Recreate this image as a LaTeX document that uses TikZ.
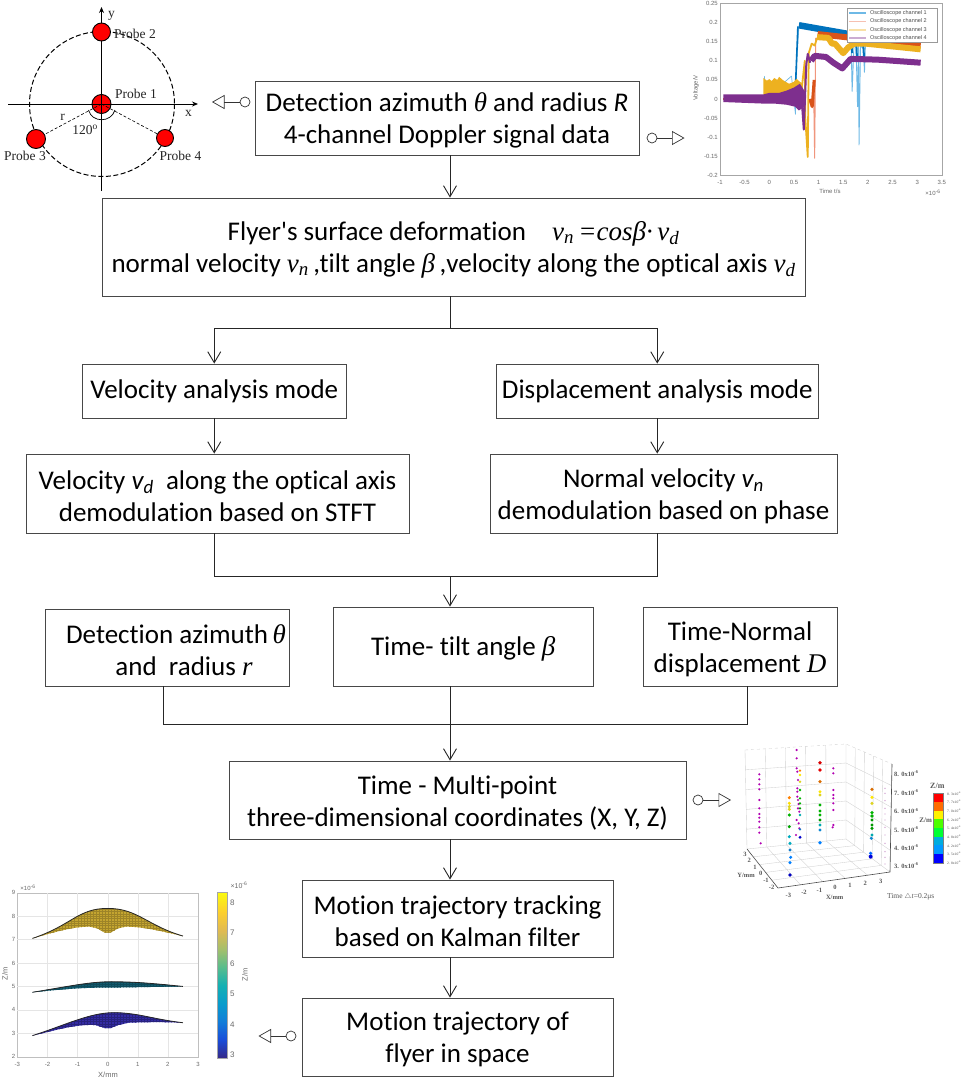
\documentclass[tikz,border=0pt]{standalone}
\usepackage{fontspec}
\setmainfont{Carlito}[Ligatures={NoCommon}]
\newfontfamily\tms{Liberation Serif}
\newfontfamily\hlv{Liberation Sans}
\usetikzlibrary{arrows.meta,decorations.pathmorphing,calc}
\definecolor{edge}{RGB}{72,72,72}
\definecolor{cblue}{RGB}{0,114,189}
\definecolor{lblue}{RGB}{110,185,230}
\definecolor{cora}{RGB}{217,83,25}
\definecolor{lora}{RGB}{240,150,125}
\definecolor{cyel}{RGB}{237,177,32}
\definecolor{cpur}{RGB}{126,47,142}
\definecolor{tickgray}{RGB}{105,105,105}
\definecolor{syel}{RGB}{196,165,48}
\definecolor{stea}{RGB}{18,92,112}
\definecolor{sblu}{RGB}{52,44,165}
\pgfdeclareverticalshading{parula}{100bp}{
 rgb(0bp)=(0.21,0.16,0.53);
 rgb(25bp)=(0.21,0.16,0.53);
 rgb(30.5bp)=(0.10,0.30,0.85);
 rgb(36bp)=(0.07,0.49,0.85);
 rgb(41.5bp)=(0.03,0.61,0.80);
 rgb(47bp)=(0.08,0.69,0.70);
 rgb(52.5bp)=(0.35,0.74,0.55);
 rgb(58bp)=(0.65,0.75,0.42);
 rgb(63.5bp)=(0.88,0.73,0.32);
 rgb(69bp)=(0.99,0.81,0.18);
 rgb(75bp)=(0.98,0.98,0.06);
 rgb(100bp)=(0.98,0.98,0.06)}
\newcommand{\tv}[1]{{\tms\itshape #1}}
\newcommand{\st}{\rule{0pt}{24pt}}
\newcommand{\bxf}{\fontsize{27}{32}\selectfont}
\tikzset{
 bx/.style={draw=edge,line width=.9pt,fill=white,inner sep=0pt,align=center,font=\bxf,text=black},
 conn/.style={line width=1pt,draw=black!85},
 arr/.style={conn,-{Straight Barb[length=11pt,width=13pt,line width=.9pt]}},
 ringnode/.style={circle,draw=black!80,line width=.7pt,fill=white,minimum size=10pt,inner sep=0pt},
 linkarr/.style={line width=.7pt,draw=black!80,-{Triangle[open,length=12.5pt,width=14pt,line width=.7pt]}},
 probe/.style={circle,draw=black,line width=.9pt,fill=red,inner sep=0pt},
 plab/.style={font=\tms\fontsize{13.5}{14}\selectfont,text=black!85,inner sep=0pt},
 tickl/.style={font=\hlv\fontsize{6}{6.5}\selectfont,text=tickgray,inner sep=0pt},
 serl/.style={font=\tms\bfseries\fontsize{6.5}{7}\selectfont,text=black!65,inner sep=0pt},
 parl/.style={font=\hlv\fontsize{7.5}{8}\selectfont,text=tickgray,inner sep=0pt},
}
\begin{document}
\begin{tikzpicture}[x=1pt,y=-1pt]
\useasboundingbox (0,0) rectangle (969,1079);
\fill[white] (0,0) rectangle (969,1079);
\pgfmathsetseed{7}

% ---------- flow boxes
\node[bx,minimum width=384pt,minimum height=74pt] (det) at (447,118) {\st Detection azimuth \tv{θ} and radius \textit{R}\\4-channel Doppler signal data};
\node[bx,minimum width=703pt,minimum height=98pt] (fly) at (453.5,247) {\st Flyer\textquotesingle s surface deformation\hspace{26pt}\tv{v\textsubscript{n}\,=cosβ·\,v\textsubscript{d}}\\normal velocity \tv{v\textsubscript{n}}\,,tilt angle \tv{β}\,,velocity along the optical axis \tv{v\textsubscript{d}}};
\node[bx,minimum width=264.5pt,minimum height=54pt] (vmode) at (214.25,391) {Velocity analysis mode};
\node[bx,minimum width=321.5pt,minimum height=54pt] (dmode) at (657.25,391) {Displacement analysis mode};
\node[bx,minimum width=383pt,minimum height=79pt] (vdem) at (217.5,493.5) {\st Velocity \textit{v\textsubscript{d}}\ \ along the optical axis\\demodulation based on STFT};
\node[bx,minimum width=347pt,minimum height=79pt] (ndem) at (663.5,493.5) {\st Normal velocity \textit{v\textsubscript{n}}\\demodulation based on phase};
\node[bx,minimum width=244pt,minimum height=77pt] (azi) at (167,647.5) {\st\hspace*{18pt}Detection azimuth\,\tv{θ}\\\hspace*{34pt}and\ \ radius \tv{r}};
\node[bx,minimum width=259.5pt,minimum height=79pt] (tilt) at (463.25,646.5) {\st Time- tilt angle \tv{β}};
\node[bx,minimum width=194pt,minimum height=79pt] (tnor) at (740,646.5) {\st Time-Normal\\displacement \tv{D}};
\node[bx,minimum width=457pt,minimum height=78pt] (xyz) at (457.5,800) {\st Time - Multi-point\\three-dimensional coordinates (X, Y, Z)};
\node[bx,minimum width=311pt,minimum height=77pt] (kal) at (457.5,918.5) {\st Motion trajectory tracking\\based on Kalman filter};
\node[bx,minimum width=311pt,minimum height=78pt] (traj) at (457.5,1037) {\st Motion trajectory of\\flyer in space};

% ---------- connectors
\coordinate (cx) at (450,0);
\coordinate (split) at (450,328);
\coordinate (mergeA) at (450,576);
\coordinate (mergeB) at (450,724);
\draw[arr] (det.south -| cx) -- (fly.north -| cx);
\draw[conn] (fly.south -| cx) -- (split);
\draw[arr] (split) -| (vmode.north);
\draw[arr] (split) -| (dmode.north);
\draw[arr] (vmode.south) -- (vmode.south |- vdem.north);
\draw[arr] (dmode.south) -- (dmode.south |- ndem.north);
\draw[conn] (vmode.south |- vdem.south) |- (mergeA);
\draw[conn] (dmode.south |- ndem.south) |- (mergeA);
\draw[arr] (mergeA) -- (tilt.north -| cx);
\coordinate (az) at (163,0);
\coordinate (tn) at (747,0);
\draw[conn] (azi.south -| az) |- (mergeB);
\draw[conn] (tnor.south -| tn) |- (mergeB);
\draw[conn] (tilt.south -| cx) -- (mergeB);
\draw[arr] (mergeB) -- (xyz.north -| cx);
\draw[arr] (xyz.south -| cx) -- (kal.north -| cx);
\draw[arr] (kal.south -| cx) -- (traj.north -| cx);

% ---------- link arrows
\node[ringnode] (r1) at (245,102) {};
\coordinate (t1) at (212,102);
\draw[linkarr] (r1) -- (t1);
\node[ringnode] (r2) at (652,138) {};
\coordinate (t2) at (684.5,138);
\draw[linkarr] (r2) -- (t2);
\node[ringnode] (r3) at (698,800) {};
\coordinate (t3) at (731,800);
\draw[linkarr] (r3) -- (t3);
\node[ringnode] (r4) at (291,1036) {};
\coordinate (t4) at (258.5,1036);
\draw[linkarr] (r4) -- (t4);

% ---------- probe layout
\draw[line width=1pt,dash pattern=on 5pt off 2.5pt] (102,104) circle (72.5);
\draw[line width=1pt,-{Stealth[length=6pt,width=5pt]}] (101.5,191) -- (101.5,7);
\draw[line width=1pt,-{Stealth[length=6pt,width=5pt]}] (8,104) -- (198,104);
\node[probe,minimum size=18pt] (p2) at (101.5,32) {};
\node[probe,minimum size=19pt] (p1) at (101.5,104) {};
\node[probe,minimum size=19pt] (p3) at (36,139) {};
\node[probe,minimum size=17pt] (p4) at (165,138) {};
\draw[line width=.6pt] (p1.west) -- (p1.east) (p1.north) -- (p1.south);
\draw[line width=.6pt,densely dashed] (p1.center) -- (p3);
\draw[line width=.6pt,densely dashed] (p1.center) -- (p4);
\draw[line width=.7pt] (88.5,110) .. controls (92,123) and (111,123) .. (115,110);
\node[plab] at (111.5,16) {y};
\node[plab,fill=none] at (135,34) {Probe 2};
\node[plab] at (136,93.5) {Probe 1};
\node[plab] at (188.5,113) {x};
\node[plab] at (62.5,117.5) {r};
\node[plab] at (85,129.5) {120\textsuperscript{o}};
\node[plab] at (25,156) {Probe 3};
\node[plab] at (180.5,156) {Probe 4};

% ---------- oscilloscope chart
\draw[black!35,line width=.5pt] (720,3) rectangle (942,175);
\foreach \t in {-1,-0.5,0,0.5,1,1.5,2,2.5,3,3.5}
  \node[tickl] at ({769.3+49.3*\t},182) {\t};
\foreach \v in {0.25,0.2,0.15,0.1,0.05,0,-0.05,-0.1,-0.15,-0.2}
  \node[tickl,anchor=east] at (718,{99-382*\v}) {\v};
\node[tickl,rotate=90] at (696,88) {Voltage/V};
\node[tickl] at (830,191) {Time t/s};
\node[tickl] at (933,193) {×10\textsuperscript{-6}};
\begin{scope}[shift={(769.3,99)},x=49.3pt,y=382pt,line join=round]
 \draw[lblue,line width=.7pt] (-0.1,0.06)--(-0.08,0)--(0.45,0.06)--(0.53,-0.04)--(0.56,0.1)--(0.6,0.19);
 \draw[cblue,line width=1.6pt] (0.53,0.03)--(0.58,0.19);
 \draw[cblue,line width=6.5pt] (0.6,0.193)--(1.7,0.168);
 \draw[lblue,line width=.9pt] (1.66,0.15)--(1.68,0.02)--(1.72,0.15)--(1.76,0.14)--(1.79,-0.02)--(1.81,0.14)--(1.82,-0.12)--(1.85,0.14)--(1.91,0.13)--(1.93,0.07)--(1.95,0.14);
 \draw[cblue,line width=2pt] (1.66,0.17)--(1.68,0.12) (1.76,0.16)--(1.78,0.1) (1.9,0.16)--(1.92,0.11);
 \draw[lora,line width=1pt] (0.9,0.02)--(0.92,-0.155)--(0.94,0.16);
 \draw[cora,line width=3pt] (0.82,0.0)--(0.87,-0.02)--(0.91,0.05);
 \draw[cora,line width=6pt] (0.98,0.17)--(3.07,0.14);
 \fill[cyel] (-0.12,0.055) -- (-0.05,0.048) -- (0,0.052) -- (0.05,0.047) -- (0.1,0.055) -- (0.16,0.05) -- (0.2,0.058) -- (0.27,0.05) -- (0.33,0.045) -- (0.4,0.04) -- (0.5,0.045) -- (0.55,0.053) -- (0.62,0.045) -- (0.68,0.04) -- (0.68,0.0) -- (0.5,0.01) -- (0.2,0.012) -- (0,0.012) -- (-0.12,0.01) -- cycle;
 \draw[cyel,line width=1.8pt] (0.66,0.03)--(0.72,0.1)--(0.73,-0.05)--(0.78,-0.152)--(0.8,0.12)--(0.86,0.145)--(0.92,0.14)--(0.97,0.16);
 \draw[cyel,line width=6pt] (0.97,0.162)--(1.2,0.16)--(1.27,0.145)--(1.33,0.145)--(1.5,0.12)--(1.6,0.135)--(1.72,0.145)--(1.95,0.145)--(3.07,0.13);
 \draw[cora,line width=1.5pt] (-0.93,0)--(-0.1,0);
 \fill[cpur] (-0.93,0.012) -- (-0.12,0.012) -- (0,0.016) -- (0.2,0.016) -- (0.35,0.022) -- (0.5,0.03) -- (0.62,0.04) -- (0.72,0.02) -- (0.72,-0.02) -- (0.6,-0.03) -- (0.52,-0.02) -- (0.35,-0.015) -- (0.1,-0.012) -- (-0.12,-0.012) -- (-0.93,-0.008) -- cycle;
 \draw[cpur,line width=2pt] (0.65,0.01)--(0.7,-0.08)--(0.75,0.09)--(0.78,0.118)--(0.83,0.095);
 \draw[cpur,line width=6pt] (0.85,0.1)--(0.92,0.113)--(1.15,0.11)--(1.3,0.095)--(1.48,0.08)--(1.65,0.105)--(2.2,0.103)--(3.07,0.095);
\end{scope}
\node[draw=black!40,line width=.4pt,fill=white,minimum width=90pt,minimum height=34pt,inner sep=0pt] (leg) at (892,25) {};
\foreach \y/\c/\n in {13/lblue/1,21.5/lora!60/2,30/cyel!40/3,38/cpur!40/4}{
  \draw[\c,line width=1.2pt] (849,\y) -- (866,\y);
  \node[font=\hlv\fontsize{5.5}{6}\selectfont,text=black!70,anchor=west,inner sep=0pt] at (870,\y) {Oscilloscope channel \n};
}

% ---------- 3D scatter
\begin{scope}[line width=.35pt,draw=black!18]
 \draw[dashed] (745,750) -- (846,744) -- (892,764);
 \draw (745,750) -- (747,849) (846,744) -- (846,839) (892,764) -- (890,872);
 \draw (747,849) -- (846,839) -- (890,872);
 \foreach \f in {.2,.4,.6,.8}{
   \draw ($(745,750)!\f!(747,849)$) -- ($(846,744)!\f!(846,839)$) -- ($(892,764)!\f!(890,872)$);
   \draw ($(745,750)!\f!(846,744)$) -- ($(747,849)!\f!(846,839)$);
   \draw ($(846,744)!\f!(892,764)$) -- ($(846,839)!\f!(890,872)$);
   \draw ($(747,849)!\f!(778,888)$) -- ($(846,839)!\f!(890,872)$);
   \draw ($(778,888)!\f!(890,872)$) -- ($(747,849)!\f!(846,839)$);
 }
\end{scope}
\draw[black!70,line width=.6pt] (747,849) -- (778,888) -- (890,872);
\draw[black!70,line width=.6pt] (892,764) -- (890,872);
\foreach \p/\q/\l in {75/343/3,88/362/2,105/382/1,122/400/0,138/422/-1,155/443/-2}
  \node[serl] at ({720+\p/3},{740+\q/3}) {\l};
\foreach \p/\q/\l in {205/465/-3,252/456/-2,298/450/-1,345/443/0,390/437/1,436/431/2,482/425/3}
  \node[serl] at ({720+\p/3},{740+\q/3}) {\l};
\foreach \q/\l in {100/8,158/7,213/6,268/5,322/4,376/3}
  \node[serl,anchor=west] at ({720+522/3},{740+\q/3}) {\l. 0x10\textsuperscript{-6}};
\node[serl] at ({720+78/3},{740+405/3}) {Y/mm};
\node[serl] at ({720+344/3},{740+471/3}) {X/mm};
\node[serl,font=\tms\fontsize{7.5}{8}\selectfont] at ({720+572/3},{740+470/3}) {Time $\triangle$\textit{t}=0.2μs};
\node[serl,font=\tms\bfseries\fontsize{8}{9}\selectfont] at ({720+652/3},{740+139/3}) {Z/m};
\node[serl,font=\tms\bfseries\fontsize{7}{8}\selectfont] at ({720+617/3},{740+240/3}) {Z/m};
\foreach \i/\c [count=\k from 0] in {0/red,1/orange!85!red,2/yellow,3/green!70!yellow,4/green!80!cyan,5/cyan!90!green,6/blue!40!cyan,7/blue}
  \fill[\c] ({720+638/3},{740+(160+26*\k)/3}) rectangle ({720+668/3},{740+(186+26*\k)/3});
\draw[black!50,line width=.3pt] ({720+638/3},{740+160/3}) rectangle ({720+668/3},{740+368/3});
\foreach \k/\l in {0/8. 3,1/7. 7,2/7. 0,3/6. 2,4/5. 4,5/4. 8,6/4. 2,7/3. 5,8/2. 8}
  \node[anchor=west,inner sep=0pt,font=\tms\fontsize{3.6}{4}\selectfont,text=black!70] at ({720+681/3},{740+(160+26*\k)/3}) {\l x10\textsuperscript{-6}};
\foreach \x/\y in {118/103,118/118,118/133,118/148,118/180,118/205,118/222,118/233,118/245,118/262,118/278,122/310,230/30,230/55,230/85,232/95,234/120,232/145,232/155,232/170,234/180,236/192,234/205,238/215,230/240,236/250,238/265,228/285,340/85,340/100,340/150,340/165,340/175,340/190,340/210,340/255,338/262}
  \fill[violet!60!magenta] ({720+\x/3},{740+\y/3}) circle (1.2);
\foreach \y in {145,160,182,205,222,240,262,285,310,335,352,372}
  \fill[violet!40] ({720+495/3},{740+\y/3}) circle (.7);
\foreach \x/\y/\c/\s in {
 208/173/orange/1.7,208/190/yellow!80!orange/1.7,208/200/yellow!85!black/1.7,208/208/yellow!85!black/1.7,208/225/green!70!black/1.7,208/260/green!65!black/1.7,208/290/cyan!70!green/1.7,210/310/cyan!70!green/1.7,210/330/cyan!60!blue/1.7,212/352/blue!50!cyan/1.7,210/368/blue!50!cyan/1.7,210/405/blue!75!black/1.9,
 240/92/orange/1.3,240/105/yellow!90!orange/1.3,240/125/yellow!85!black/1.4,240/150/green!70!black/1.4,240/175/green!70!black/1.3,240/190/green!70!black/1.3,240/205/green!60!black/1.3,240/225/cyan!60!green/1.3,240/268/cyan!60!blue/1.3,240/292/blue!80!black/1.6,
 300/68/red!85!black/1.9,300/90/red!90!black/1.8,300/125/orange!85!black/1.8,300/155/yellow!90!orange/1.6,300/165/yellow!85!black/1.6,300/195/green!70!black/1.7,300/213/green!70!black/1.7,300/225/green!70!black/1.7,300/240/green!60!black/1.7,300/255/cyan!60!green/1.7,300/270/cyan!70!blue/1.7,300/308/blue!50!cyan/1.9,
 456/148/orange!85!black/1.8,456/172/yellow!90!orange/1.7,456/190/yellow!85!black/1.7,456/218/green!70!black/1.8,456/228/green!70!black/1.8,456/240/green!60!black/1.7,456/255/green!60!black/1.7,456/265/green!60!black/1.7,456/285/cyan!60!green/1.7,454/295/cyan!70!blue/1.7,452/340/blue!60!cyan/1.8,452/350/blue!85!black/2}
  \fill[\c] ({720+\x/3},{740+\y/3}) circle (\s);

% ---------- surface chart
\draw[black!25,line width=.35pt] (17.3,892.7) rectangle (198,1056.7);
\foreach \t in {-2,-1,0,1,2} \draw[black!10,line width=.35pt] ({107.7+30.1*\t},892.7) -- ({107.7+30.1*\t},1056.7);
\foreach \v in {3,4,5,6,7,8} \draw[black!10,line width=.35pt] (17.3,{1056.7-23.43*(\v-2)}) -- (198,{1056.7-23.43*(\v-2)});
\foreach \t in {-3,-2,-1,0,1,2,3} \node[tickl] at ({107.7+30.1*\t},1064) {\t};
\foreach \v in {2,3,4,5,6,7,8,9} \node[tickl,anchor=east] at (15.5,{1056.7-23.43*(\v-2)}) {\v};
\node[tickl] at (28,888) {×10\textsuperscript{-6}};
\node[parl] at (108,1075) {X/mm};
\node[parl,rotate=90] at (5,974) {Z/m};
\begin{scope}[shift={(107.7,1056.7)},x=30.1pt,y=23.43pt]
 \newcommand{\srf}[6]{%
  \begin{scope}
   \clip #1;
   \fill[#2] (-3,-1) rectangle (3,8);
   \foreach \g in {-2.5,-2.4,...,2.5} \draw[#3,line width=.2pt] (\g,#4) -- (\g,#5);
   \foreach \g in {0,1,...,14} \draw[#3,line width=.2pt] (-3,{#4+\g*0.1}) -- (3,{#4+\g*0.1});
  \end{scope}
  \draw[black!85,line width=.8pt] #6;}
 \srf{(-2.5,5.05) .. controls (-1.2,5.6) and (-1,6.33) .. (0,6.33) .. controls (1,6.33) and (1.3,5.6) .. (2.5,5.15) .. controls (1.8,5.35) and (1.2,5.55) .. (0.6,5.55) -- (0.35,5.48) -- (0.1,5.3) -- (-0.1,5.3) -- (-0.35,5.48) -- (-0.6,5.55) .. controls (-1.2,5.55) and (-1.8,5.3) .. (-2.5,5.05) -- cycle}{syel}{syel!80!black}{5}{6.4}{(-2.5,5.05) .. controls (-1.2,5.6) and (-1,6.33) .. (0,6.33) .. controls (1,6.33) and (1.3,5.6) .. (2.5,5.15)}
 \srf{(-2.5,2.75) .. controls (-1.3,3.0) and (-0.6,3.2) .. (0.1,3.2) .. controls (1,3.2) and (1.7,3.1) .. (2.5,3.0) .. controls (1.5,2.98) and (0.6,2.95) .. (0,2.95) .. controls (-1,2.95) and (-1.7,2.85) .. (-2.5,2.75) -- cycle}{stea}{stea!80!black}{2.7}{3.3}{(-2.5,2.75) .. controls (-1.3,3.0) and (-0.6,3.2) .. (0.1,3.2) .. controls (1,3.2) and (1.7,3.1) .. (2.5,3.0)}
 \srf{(-2.5,0.9) .. controls (-1.4,1.35) and (-0.6,1.88) .. (0.2,1.88) .. controls (1,1.88) and (1.5,1.6) .. (2.5,1.45) .. controls (1.9,1.48) and (1.4,1.48) .. (0.7,1.45) -- (0.35,1.35) -- (0.1,1.22) -- (-0.1,1.22) -- (-0.4,1.35) .. controls (-1.1,1.4) and (-1.8,1.1) .. (-2.5,0.9) -- cycle}{sblu}{sblu!75!black}{0.8}{2}{(-2.5,0.9) .. controls (-1.4,1.35) and (-0.6,1.88) .. (0.2,1.88) .. controls (1,1.88) and (1.5,1.6) .. (2.5,1.45)}
\end{scope}
\path[shading=parula] (217,892.5) rectangle (227.5,1058);
\draw[black!35,line width=.35pt] (217,892.5) rectangle (227.5,1058);
\foreach \v/\y in {3/1055,4/1024.5,5/994,6/963.5,7/933,8/903}
  \node[parl,font=\hlv\fontsize{8}{9}\selectfont,anchor=west] at (230,\y) {\v};
\node[parl,font=\hlv\fontsize{7}{8}\selectfont] at (239,885) {×10\textsuperscript{-6}};
\node[parl,rotate=90] at (245,975) {Z/m};
\end{tikzpicture}
\end{document}
